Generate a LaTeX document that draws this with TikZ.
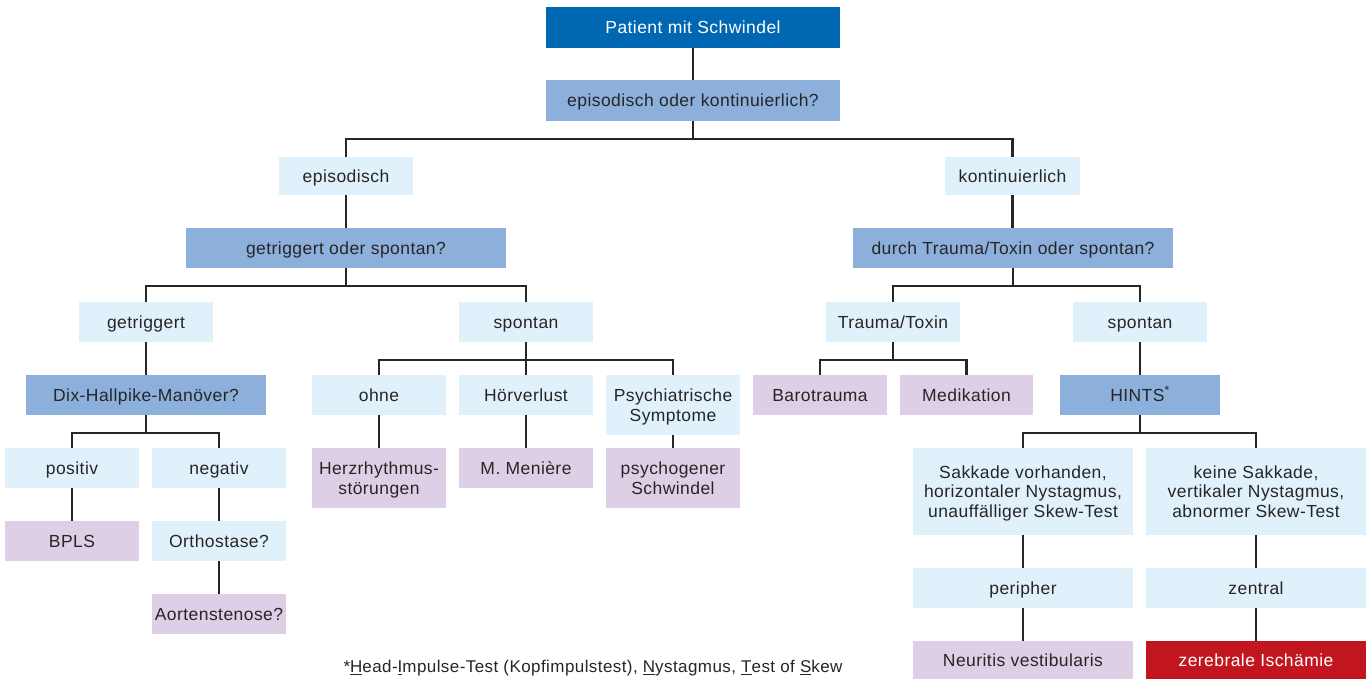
\documentclass[tikz,border=0pt]{standalone}
\usepackage{fontspec}
\setmainfont{Liberation Sans}[LetterSpace=2.5]
\definecolor{dkblue}{HTML}{0068B3}
\definecolor{mdblue}{HTML}{8CAFDC}
\definecolor{ltblue}{HTML}{E1F1FB}
\definecolor{lilac}{HTML}{DDD0E6}
\definecolor{alarm}{HTML}{C1161F}
\definecolor{ink}{HTML}{262626}
\begin{document}
\begin{tikzpicture}[x=1pt,y=-1pt,
  box/.style={minimum width=134pt,minimum height=40pt,inner sep=0pt,align=center,
    text=ink,font=\fontsize{17.5}{19.5}\selectfont,text height=14pt,text depth=1.5pt},
  two/.style={text height=33.5pt},
  three/.style={text height=53pt},
  dark/.style={box,fill=dkblue,text=white},
  mid/.style={box,fill=mdblue},
  light/.style={box,fill=ltblue},
  purp/.style={box,fill=lilac},
  redb/.style={box,fill=alarm,text=white},
  link/.style={draw=ink,line width=2.5pt}]
\useasboundingbox (0,0) rectangle (1368,679);
% nodes
\node[dark,minimum width=294pt,minimum height=41pt] (ps) at (693,27.5) {Patient mit Schwindel};
\node[mid,minimum width=294pt,minimum height=41pt] (q1) at (693,100.5) {episodisch oder kontinuierlich?};
\node[light,minimum height=38pt] (epi) at (346,176) {episodisch};
\node[light,minimum width=135pt,minimum height=38pt] (kon) at (1012.5,176) {kontinuierlich};
\node[mid,minimum width=320pt] (q2) at (346,248) {getriggert oder spontan?};
\node[mid,minimum width=320pt] (q3) at (1013,248) {durch Trauma/Toxin oder spontan?};
\node[light] (getr) at (146,322) {getriggert};
\node[light] (spL) at (526,322) {spontan};
\node[light] (tt) at (893,322) {Trauma/Toxin};
\node[light] (spR) at (1140,322) {spontan};
\node[mid,minimum width=240pt] (dix) at (146,395) {Dix-Hallpike-Manöver?};
\node[light] (pos) at (72,468) {positiv};
\node[light] (neg) at (219,468) {negativ};
\node[purp] (bpls) at (72,541) {BPLS};
\node[light] (orth) at (219,541) {Orthostase?};
\node[purp] (aort) at (219,614) {Aortenstenose?};
\node[light] (ohne) at (379,395) {ohne};
\node[light] (hoer) at (526,395) {Hörverlust};
\node[light,two,minimum height=60pt] (psy) at (673,405) {Psychiatrische\\Symptome};
\node[purp,two,minimum height=60pt] (herz) at (379,478) {Herzrhythmus-\\störungen};
\node[purp] (men) at (526,468) {M. Menière};
\node[purp,two,minimum height=60pt] (psyS) at (673,478) {psychogener\\Schwindel};
\node[purp] (baro) at (820,395) {Barotrauma};
\node[purp,minimum width=133pt] (med) at (966.5,395) {Medikation};
\node[mid,minimum width=160pt] (hints) at (1140,395) {HINTS\textsuperscript{*}};
\node[light,three,minimum width=220pt,minimum height=87pt] (sak) at (1023,491.5) {Sakkade vorhanden,\\horizontaler Nystagmus,\\unauffälliger Skew-Test};
\node[light,three,minimum width=220pt,minimum height=87pt] (kein) at (1256,491.5) {keine Sakkade,\\vertikaler Nystagmus,\\abnormer Skew-Test};
\node[light,minimum width=220pt] (per) at (1023,588) {peripher};
\node[light,minimum width=220pt] (zen) at (1256,588) {zentral};
\node[purp,minimum width=220pt,minimum height=38pt] (neu) at (1023,660) {Neuritis vestibularis};
\node[redb,minimum width=220pt,minimum height=38pt] (zer) at (1256,660) {zerebrale Ischämie};
\node[text=ink,font=\fontsize{17}{19}\selectfont,inner sep=0pt] (fn) at (593,668)
  {*\underline{H}ead-\underline{I}mpulse-Test (Kopfimpulstest), \underline{N}ystagmus, \underline{T}est of \underline{S}kew};
% connectors
\draw[link] (ps) -- (q1);
\draw[link] (q1.south) -- ++(0,18) -| (epi.north);
\draw[link] (q1.south) -- ++(0,18) -| (kon.north);
\draw[link] (epi) -- (q2);
\draw[link] (kon.south) -- (kon.south |- q3.north);
\draw[link] (q2.south) -- ++(0,18) -| (getr.north);
\draw[link] (q2.south) -- ++(0,18) -| (spL.north);
\draw[link] (q3.south) -- ++(0,18) -| (tt.north);
\draw[link] (q3.south) -- ++(0,18) -| (spR.north);
\draw[link] (getr) -- (dix);
\draw[link] (dix.south) -- ++(0,18) -| (pos.north);
\draw[link] (dix.south) -- ++(0,18) -| (neg.north);
\draw[link] (pos) -- (bpls);
\draw[link] (neg) -- (orth);
\draw[link] (orth) -- (aort);
\draw[link] (spL.south) -- ++(0,18) -| (ohne.north);
\draw[link] (spL.south) -- ++(0,18) -| (psy.north);
\draw[link] (spL.south) -- (hoer.north);
\draw[link] (ohne) -- (herz);
\draw[link] (hoer) -- (men);
\draw[link] (psy) -- (psyS);
\draw[link] (tt.south) -- ++(0,18) -| (baro.north);
\draw[link] (tt.south) -- ++(0,18) -| (med.north);
\draw[link] (spR) -- (hints);
\draw[link] (hints.south) -- ++(0,18) -| (sak.north);
\draw[link] (hints.south) -- ++(0,18) -| (kein.north);
\draw[link] (sak) -- (per);
\draw[link] (per) -- (neu);
\draw[link] (kein) -- (zen);
\draw[link] (zen) -- (zer);
\end{tikzpicture}
\end{document}
